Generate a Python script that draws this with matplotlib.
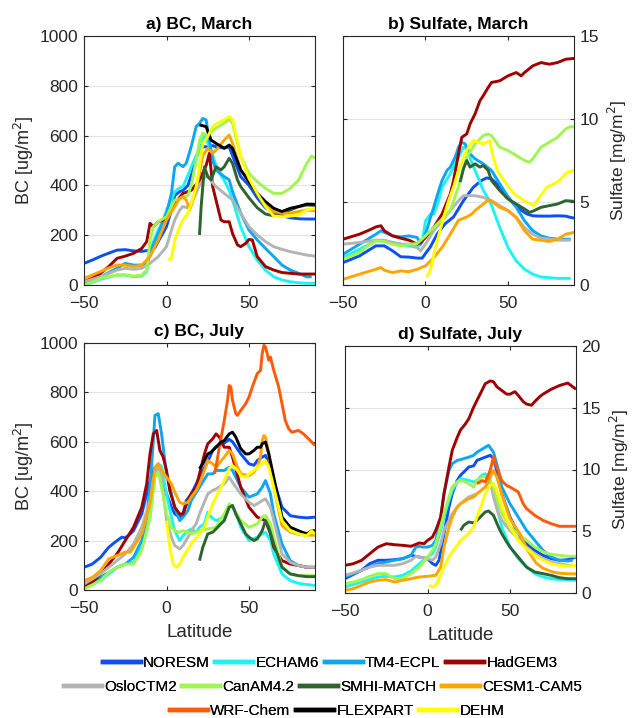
import matplotlib
matplotlib.use("Agg")
import matplotlib.pyplot as plt
from matplotlib.lines import Line2D

plt.rcParams['font.family'] = ['Liberation Sans', 'DejaVu Sans']

models = ["NORESM", "ECHAM6", "TM4-ECPL", "HadGEM3", "OsloCTM2", "CanAM4.2",
          "SMHI-MATCH", "CESM1-CAM5", "WRF-Chem", "FLEXPART", "DEHM"]
colors = ["#0a50f5", "#1ef2f2", "#0ca6f2", "#a00000", "#b4b4b4", "#a0f550",
          "#2e6430", "#ffa500", "#ff5a0a", "#000000", "#ffff00"]

titles = ["a) BC, March", "b) Sulfate, March", "c) BC, July", "d) Sulfate, July"]
xticks = [-50, 0, 50]
bc_yticks = [0, 200, 400, 600, 800, 1000]
su_mar_yticks = [0, 5, 10, 15]
su_jul_yticks = [0, 5, 10, 15, 20]

# ---------------- a) BC, March (lat, value) ----------------
bc_mar_noresm = [(-50, 87), (-45, 100), (-40, 115), (-35, 128), (-30, 140), (-25, 142), (-20, 137), (-15, 135), (-10, 140), (-7, 150), (-5, 175), (-2, 210), (0, 235), (3, 300), (5, 360), (8, 375), (10, 380), (13, 400), (15, 440), (18, 510), (20, 550), (23, 555), (25, 555), (28, 560), (30, 555), (35, 550), (38, 555), (40, 520), (45, 435), (50, 400), (55, 350), (60, 310), (65, 290), (70, 278), (75, 270), (80, 266), (85, 265), (90, 265)]
bc_mar_echam6 = [(-50, 0), (-45, 10), (-40, 23), (-35, 32), (-30, 40), (-25, 40), (-20, 33), (-15, 36), (-12, 54), (-10, 140), (-7, 190), (-5, 221), (-2, 260), (0, 301), (3, 341), (5, 375), (8, 390), (10, 395), (13, 440), (15, 475), (18, 520), (20, 542), (23, 600), (25, 570), (28, 520), (30, 480), (33, 440), (35, 420), (38, 380), (40, 341), (45, 234), (50, 154), (55, 100), (60, 60), (65, 33), (70, 20), (75, 13), (80, 9), (85, 7), (90, 7)]
bc_mar_tm4 = [(-50, 7), (-45, 18), (-40, 33), (-35, 50), (-30, 67), (-25, 87), (-20, 80), (-15, 80), (-12, 87), (-10, 127), (-5, 207), (0, 288), (3, 368), (5, 475), (7, 489), (10, 475), (12, 489), (15, 556), (18, 636), (20, 649), (22, 669), (24, 663), (26, 582), (28, 500), (30, 462), (35, 435), (38, 422), (40, 375), (45, 288), (50, 221), (55, 181), (60, 147), (65, 114), (70, 80), (75, 60), (80, 47), (85, 33), (88, 33)]
bc_mar_hadgem3 = [(-50, 13), (-45, 27), (-40, 47), (-35, 74), (-30, 107), (-25, 116), (-20, 127), (-15, 147), (-12, 174), (-10, 248), (-8, 234), (-5, 254), (-2, 261), (0, 274), (5, 328), (10, 368), (15, 380), (20, 420), (24, 480), (26, 529), (28, 395), (30, 341), (33, 261), (35, 254), (38, 254), (40, 207), (43, 161), (45, 154), (48, 167), (50, 183), (52, 181), (55, 114), (60, 74), (65, 60), (70, 50), (75, 47), (80, 44), (90, 44)]
bc_mar_oslo = [(-50, 13), (-40, 33), (-30, 60), (-25, 67), (-20, 63), (-15, 67), (-10, 87), (-5, 114), (0, 154), (3, 221), (5, 261), (8, 301), (10, 315), (13, 310), (15, 330), (18, 370), (20, 400), (23, 430), (25, 440), (28, 410), (30, 395), (35, 368), (40, 341), (45, 288), (50, 234), (55, 201), (60, 174), (65, 154), (70, 143), (75, 134), (80, 127), (85, 120), (90, 116)]
bc_mar_canam = [(-50, 0), (-45, 12), (-40, 27), (-35, 35), (-30, 40), (-25, 40), (-20, 36), (-15, 40), (-12, 60), (-10, 180), (-8, 234), (-5, 254), (0, 274), (3, 315), (5, 341), (8, 345), (10, 350), (13, 360), (15, 400), (18, 500), (20, 580), (22, 610), (25, 600), (28, 620), (30, 630), (35, 650), (38, 665), (40, 649), (45, 515), (50, 448), (55, 415), (60, 388), (65, 368), (70, 368), (75, 388), (80, 421), (85, 488), (88, 518), (90, 509)]
bc_mar_smhi = [(20, 201), (21, 315), (23, 475), (25, 435), (27, 422), (30, 475), (33, 462), (35, 475), (38, 509), (40, 489), (43, 422), (45, 395), (50, 350), (55, 310), (60, 285), (65, 278), (70, 288), (75, 301), (80, 315), (85, 321), (90, 320)]
bc_mar_cesm = [(-50, 27), (-45, 40), (-40, 54), (-35, 68), (-30, 80), (-25, 80), (-20, 74), (-15, 80), (-10, 114), (-5, 181), (0, 261), (5, 315), (8, 348), (10, 355), (12, 341), (14, 301), (17, 360), (20, 450), (22, 520), (25, 549), (28, 529), (30, 542), (35, 582), (38, 602), (40, 569), (45, 462), (50, 415), (55, 368), (60, 321), (65, 295), (70, 288), (75, 288), (80, 295), (85, 301), (90, 298)]
bc_mar_wrf = []
bc_mar_flexpart = [(20, 643), (24, 636), (27, 582), (30, 569), (35, 549), (38, 562), (40, 549), (45, 462), (50, 415), (55, 368), (60, 335), (65, 308), (70, 295), (75, 308), (80, 315), (85, 325), (90, 324)]
bc_mar_dehm = [(1, 100), (3, 107), (5, 180), (8, 234), (10, 261), (13, 288), (15, 328), (18, 395), (20, 475), (22, 569), (25, 596), (28, 636), (30, 647), (35, 663), (38, 676), (40, 665), (42, 609), (45, 515), (50, 428), (55, 368), (60, 315), (65, 277), (70, 274), (75, 277), (80, 281), (85, 301), (90, 308)]

# ---------------- b) Sulfate, March ----------------
su_mar_noresm = [(-50, 1.35), (-40, 1.75), (-35, 2.06), (-30, 2.36), (-25, 2.36), (-20, 2.06), (-15, 1.7), (-10, 1.68), (-5, 1.62), (-2, 1.62), (0, 1.9), (3, 2.3), (7, 3.06), (12, 3.7), (17, 4.1), (23, 5.08), (29, 5.89), (34, 6.3), (37, 6.45), (40, 6.4), (45.5, 5.89), (50, 5.3), (53.6, 4.88), (58, 4.5), (61.7, 4.27), (65, 4.17), (70, 4.15), (75, 4.15), (80, 4.17), (85, 4.15), (88, 4.07), (90, 4.03)]
su_mar_echam6 = [(-50, 1.65), (-40, 2.16), (-30, 2.66), (-25, 2.66), (-20, 2.56), (-15, 2.46), (-10, 2.36), (-5, 2.26), (-2, 2.56), (0, 3.87), (3, 4.27), (5, 4.27), (8, 5.08), (10, 5.89), (15, 6.7), (20, 7.7), (23, 8.3), (25, 8.2), (28, 7.4), (30, 6.9), (33, 6.2), (35, 5.7), (38, 5.2), (40, 4.8), (43, 4.0), (45, 3.47), (50, 2.26), (55, 1.45), (60, 0.95), (65, 0.65), (70, 0.48), (75, 0.44), (80, 0.4), (88, 0.4)]
su_mar_tm4 = [(-50, 1.85), (-40, 2.46), (-30, 3.06), (-27, 3.27), (-25, 3.17), (-20, 2.96), (-15, 2.9), (-10, 2.96), (-5, 2.86), (-3, 2.46), (0, 3.06), (3, 4.07), (5, 4.68), (8, 5.69), (10, 6.29), (13, 6.9), (15, 7.1), (18, 7.7), (20, 8.3), (22, 8.6), (24, 8.5), (27, 7.9), (30, 7.6), (35, 7.3), (40, 6.9), (45, 6.1), (50, 5.3), (55, 4.68), (60, 3.87), (65, 3.27), (70, 2.96), (75, 2.82), (80, 2.76), (88, 2.76)]
su_mar_hadgem3 = [(-50, 2.76), (-40, 3.06), (-35, 3.27), (-30, 3.5), (-27, 3.57), (-25, 3.27), (-20, 2.96), (-15, 2.82), (-10, 2.7), (-5, 2.46), (-3, 2.56), (0, 2.86), (5, 3.47), (10, 4.27), (15, 5.48), (17, 6.29), (20, 7.9), (22, 8.9), (25, 9.1), (27, 9.7), (30, 10.3), (33, 11.1), (35, 11.4), (38, 11.9), (40, 12.2), (45, 12.3), (50, 12.6), (55, 12.8), (58, 12.6), (60, 12.8), (65, 13.2), (70, 13.4), (75, 13.3), (80, 13.4), (85, 13.6), (90, 13.65)]
su_mar_oslo = [(-50, 2.46), (-40, 2.56), (-30, 2.7), (-25, 2.7), (-20, 2.56), (-15, 2.46), (-10, 2.46), (-5, 2.26), (-3, 2.06), (0, 2.46), (5, 3.27), (10, 3.87), (15, 4.48), (20, 5.08), (23, 5.38), (25, 5.38), (30, 5.38), (35, 5.28), (40, 5.08), (45, 4.78), (50, 4.48), (55, 4.07), (60, 3.47), (65, 3.06), (70, 2.82), (75, 2.76), (80, 2.7), (88, 2.7)]
su_mar_canam = [(-50, 1.55), (-40, 1.96), (-35, 2.36), (-30, 2.66), (-25, 2.62), (-20, 2.46), (-15, 2.36), (-10, 2.46), (-5, 2.5), (0, 2.96), (5, 3.47), (10, 3.97), (15, 4.48), (20, 5.89), (22, 6.7), (25, 7.7), (30, 8.5), (35, 9.0), (38, 9.1), (40, 9.0), (45, 8.3), (50, 8.1), (55, 7.8), (60, 7.5), (63, 7.4), (65, 7.6), (70, 8.3), (75, 8.6), (80, 8.9), (85, 9.4), (88, 9.55), (90, 9.5)]
su_mar_smhi = [(21, 6.2), (23, 7.0), (25, 7.5), (27, 7.1), (30, 7.3), (33, 7.1), (35, 7.2), (38, 6.9), (40, 6.29), (45, 5.69), (50, 5.18), (55, 4.88), (60, 4.58), (63, 4.38), (65, 4.44), (70, 4.68), (75, 4.78), (80, 4.88), (85, 5.08), (90, 5.04)]
su_mar_cesm = [(-50, 0.34), (-40, 0.65), (-30, 0.95), (-27, 1.05), (-25, 0.89), (-20, 0.75), (-15, 0.85), (-10, 0.8), (-5, 0.95), (0, 1.15), (5, 1.65), (10, 2.26), (15, 3.06), (20, 3.9), (25, 4.1), (28, 4.27), (30, 4.48), (35, 4.88), (38, 5.12), (40, 5.05), (45, 4.68), (50, 4.48), (55, 4.07), (60, 3.27), (65, 2.76), (70, 2.7), (75, 2.62), (80, 2.76), (85, 3.06), (90, 3.17)]
su_mar_wrf = []
su_mar_flexpart = []
su_mar_dehm = [(0.6, 0.48), (3, 0.9), (6, 2.26), (11, 4.07), (14, 5.08), (17, 5.9), (20, 6.9), (23, 7.7), (26, 8.3), (29, 8.7), (32, 8.6), (35, 8.5), (39, 8.7), (41, 7.7), (44, 6.8), (47.5, 6.3), (53.6, 5.5), (59.7, 5.08), (65.7, 4.78), (67.7, 5.1), (73.8, 5.9), (80, 6.2), (86, 6.8), (90, 6.9)]

# ---------------- c) BC, July ----------------
bc_jul_noresm = [(-50, 92), (-45, 105), (-40, 132), (-35, 173), (-30, 200), (-27, 214), (-25, 211), (-22, 227), (-20, 240), (-15, 308), (-10, 443), (-7, 497), (-5, 490), (0, 389), (3, 335), (5, 308), (8, 295), (10, 308), (12, 362), (15, 389), (20, 457), (25, 520), (28, 565), (30, 580), (33, 590), (35, 595), (38, 610), (40, 600), (45, 551), (50, 511), (53, 505), (55, 524), (58, 538), (60, 545), (63, 497), (65, 443), (70, 335), (75, 301), (80, 295), (85, 292), (90, 295)]
bc_jul_echam6 = [(-50, 11), (-40, 38), (-35, 65), (-30, 92), (-25, 105), (-20, 112), (-15, 173), (-10, 295), (-7, 470), (-5, 511), (-3, 500), (0, 389), (3, 295), (5, 240), (8, 200), (10, 220), (13, 240), (15, 247), (18, 234), (20, 254), (23, 268), (25, 315), (27, 295), (30, 281), (35, 295), (38, 335), (40, 342), (43, 295), (45, 254), (50, 200), (55, 214), (58, 227), (60, 234), (63, 200), (65, 146), (70, 65), (75, 38), (80, 27), (85, 22), (90, 18)]
bc_jul_tm4 = [(-50, 18), (-40, 51), (-30, 92), (-25, 105), (-20, 132), (-15, 200), (-12, 295), (-10, 416), (-8, 605), (-7, 707), (-5, 714), (-3, 632), (0, 470), (3, 389), (5, 335), (8, 281), (10, 295), (13, 322), (15, 362), (20, 416), (25, 470), (28, 470), (30, 484), (35, 484), (38, 497), (40, 484), (45, 416), (50, 376), (55, 389), (58, 416), (60, 443), (63, 389), (65, 308), (70, 186), (75, 119), (80, 99), (85, 92), (90, 92)]
bc_jul_hadgem3 = [(-50, 18), (-45, 31), (-40, 65), (-35, 105), (-30, 146), (-25, 200), (-20, 254), (-15, 335), (-12, 430), (-10, 551), (-8, 632), (-6, 646), (-4, 565), (-2, 538), (0, 484), (2, 403), (5, 335), (8, 308), (10, 308), (13, 362), (15, 389), (18, 416), (20, 470), (23, 551), (25, 592), (28, 612), (30, 632), (32, 619), (35, 578), (38, 578), (40, 538), (45, 416), (50, 335), (55, 295), (60, 281), (63, 227), (65, 173), (70, 119), (75, 105), (80, 99), (85, 92), (90, 92)]
bc_jul_oslo = [(-50, 24), (-40, 65), (-30, 119), (-25, 146), (-20, 186), (-15, 254), (-10, 362), (-7, 470), (-5, 497), (-3, 457), (0, 281), (3, 214), (5, 180), (8, 166), (10, 180), (13, 214), (15, 240), (18, 268), (20, 308), (25, 389), (28, 403), (30, 409), (35, 430), (38, 457), (40, 436), (45, 389), (50, 355), (53, 342), (55, 349), (58, 362), (60, 369), (63, 335), (65, 281), (70, 146), (75, 112), (80, 99), (85, 92), (90, 92)]
bc_jul_canam = [(-50, 4), (-40, 38), (-35, 72), (-30, 92), (-25, 105), (-20, 105), (-15, 159), (-10, 295), (-7, 457), (-5, 477), (-3, 416), (0, 308), (3, 254), (5, 240), (8, 234), (10, 240), (13, 234), (15, 227), (20, 240), (25, 247), (30, 254), (35, 308), (38, 349), (40, 335), (45, 281), (50, 254), (55, 268), (58, 295), (60, 301), (63, 268), (65, 214), (70, 92), (75, 65), (80, 58), (85, 58), (90, 58)]
bc_jul_smhi = [(20, 119), (22, 173), (25, 227), (28, 234), (30, 247), (33, 268), (35, 281), (38, 335), (40, 342), (42, 308), (45, 268), (48, 227), (50, 214), (53, 200), (55, 207), (58, 240), (60, 281), (62, 254), (65, 186), (70, 92), (75, 65), (80, 58), (85, 54), (90, 54)]
bc_jul_cesm = [(-50, 38), (-45, 51), (-40, 78), (-35, 126), (-30, 139), (-25, 153), (-22, 153), (-20, 173), (-15, 227), (-10, 349), (-7, 497), (-5, 511), (-3, 484), (0, 457), (3, 430), (5, 396), (8, 355), (10, 349), (13, 355), (15, 376), (18, 403), (20, 430), (23, 484), (25, 524), (28, 511), (30, 497), (35, 538), (38, 565), (40, 551), (43, 497), (45, 470), (50, 463), (53, 477), (55, 497), (57, 538), (58, 605), (59, 625), (60, 619), (62, 551), (65, 416), (70, 260), (75, 235), (80, 225), (85, 222), (90, 222)]
bc_jul_wrf = [(29, 470), (30, 497), (32, 578), (35, 686), (37, 768), (38, 828), (39, 822), (40, 768), (42, 714), (43, 707), (45, 727), (48, 754), (50, 781), (52, 822), (55, 876), (57, 889), (58, 957), (59, 991), (60, 984), (62, 930), (63, 943), (65, 889), (68, 822), (70, 754), (72, 686), (74, 653), (76, 639), (80, 646), (83, 632), (85, 619), (88, 599), (90, 585)]
bc_jul_flexpart = [(20, 491), (22, 511), (25, 551), (27, 558), (30, 578), (33, 599), (35, 605), (38, 632), (40, 639), (42, 619), (45, 572), (48, 551), (50, 551), (53, 565), (55, 578), (57, 578), (58, 592), (60, 599), (62, 551), (65, 457), (68, 362), (70, 295), (75, 254), (80, 240), (85, 227), (88, 240), (90, 240)]
bc_jul_dehm = [(0, 281), (2, 173), (4, 105), (6, 92), (8, 105), (10, 132), (15, 186), (20, 227), (23, 254), (25, 295), (28, 349), (30, 376), (33, 416), (35, 443), (38, 491), (40, 504), (43, 484), (45, 463), (48, 457), (50, 470), (53, 484), (55, 497), (58, 511), (60, 524), (62, 497), (65, 416), (68, 335), (70, 281), (75, 240), (80, 227), (85, 220), (88, 240), (90, 227)]

# ---------------- d) Sulfate, July ----------------
su_jul_noresm = [(-50, 1.16), (-40, 1.84), (-35, 2.38), (-30, 2.65), (-25, 2.65), (-20, 2.7), (-15, 2.78), (-10, 3.05), (-5, 2.91), (0, 2.78), (3, 2.38), (5, 2.24), (7, 2.65), (10, 4.8), (13, 6.96), (15, 8.04), (18, 9.12), (20, 9.53), (23, 9.93), (25, 10.2), (28, 10.3), (30, 10.74), (35, 11.0), (38, 11.15), (40, 10.9), (43, 9.39), (45, 8.04), (50, 6.15), (55, 4.8), (60, 3.99), (65, 3.45), (70, 3.05), (75, 2.78), (80, 2.65), (85, 2.7), (90, 2.91)]
su_jul_echam6 = [(-50, 0.49), (-40, 0.89), (-30, 1.3), (-25, 1.35), (-20, 1.3), (-15, 1.43), (-10, 1.78), (-5, 2.37), (0, 2.91), (3, 3.18), (5, 3.72), (8, 5.07), (10, 6.15), (13, 7.5), (15, 8.31), (18, 8.99), (20, 9.26), (25, 9.12), (28, 8.99), (30, 9.12), (33, 9.53), (35, 9.66), (38, 8.99), (40, 8.04), (43, 6.42), (45, 5.34), (50, 3.72), (55, 2.78), (60, 2.1), (65, 1.57), (70, 1.3), (75, 1.16), (80, 1.08), (90, 1.03)]
su_jul_tm4 = [(-50, 1.3), (-40, 1.84), (-30, 2.38), (-25, 2.51), (-20, 2.65), (-15, 2.78), (-10, 3.05), (-7, 3.72), (-5, 3.78), (-3, 3.72), (0, 3.72), (3, 3.86), (5, 4.26), (8, 6.15), (10, 8.04), (13, 9.93), (15, 10.47), (18, 10.74), (20, 10.8), (25, 11.0), (28, 11.15), (30, 11.4), (35, 11.8), (37, 11.96), (40, 11.4), (43, 9.93), (45, 8.58), (50, 7.23), (55, 6.15), (60, 5.07), (65, 4.26), (70, 3.45), (75, 2.91), (80, 2.65), (85, 2.59), (88, 2.65)]
su_jul_hadgem3 = [(-50, 2.24), (-45, 2.37), (-40, 2.64), (-35, 3.18), (-30, 3.72), (-25, 3.99), (-20, 3.91), (-15, 3.86), (-10, 3.78), (-5, 4.05), (-2, 4.0), (0, 4.26), (3, 4.53), (5, 5.07), (8, 6.15), (10, 8.04), (13, 10.2), (15, 11.55), (18, 12.6), (20, 13.2), (23, 13.7), (25, 14.1), (28, 15.06), (30, 15.6), (33, 16.4), (35, 16.95), (38, 17.17), (40, 17.1), (42, 16.7), (45, 16.4), (48, 16.1), (50, 16.1), (53, 16.3), (55, 16.0), (58, 15.5), (60, 15.3), (63, 15.2), (65, 15.5), (68, 15.9), (70, 16.1), (75, 16.5), (80, 16.8), (85, 17.0), (88, 16.7), (90, 16.5)]
su_jul_oslo = [(-50, 1.43), (-40, 1.84), (-35, 2.1), (-30, 2.24), (-25, 2.24), (-20, 2.24), (-15, 2.37), (-10, 2.65), (-7, 2.97), (-5, 2.91), (0, 2.78), (3, 2.65), (5, 2.91), (8, 3.99), (10, 5.07), (13, 5.88), (15, 6.42), (18, 6.96), (20, 7.23), (25, 7.77), (30, 8.04), (35, 8.58), (38, 9.12), (40, 7.77), (43, 6.42), (45, 5.88), (50, 5.07), (55, 4.4), (60, 3.72), (65, 3.18), (70, 2.78), (75, 2.51), (80, 2.37), (85, 2.24), (88, 2.24)]
su_jul_canam = [(-50, 0.76), (-45, 0.89), (-40, 1.08), (-35, 1.35), (-30, 1.57), (-25, 1.57), (-22, 1.3), (-20, 1.16), (-15, 1.16), (-10, 1.57), (-5, 2.1), (0, 2.91), (3, 3.45), (5, 3.99), (8, 5.34), (10, 6.42), (13, 7.77), (15, 8.58), (18, 8.99), (20, 9.12), (23, 8.99), (25, 8.85), (28, 8.58), (30, 9.12), (33, 9.39), (35, 9.45), (38, 9.12), (40, 8.58), (43, 7.23), (45, 6.42), (50, 5.34), (55, 4.8), (60, 4.26), (65, 3.72), (70, 3.32), (75, 3.13), (80, 3.05), (85, 2.97), (90, 2.97)]
su_jul_smhi = [(20, 5.07), (22, 5.48), (25, 5.75), (28, 5.67), (30, 5.88), (33, 6.29), (35, 6.56), (37, 6.64), (40, 6.29), (43, 5.34), (45, 4.8), (48, 4.13), (50, 3.72), (55, 2.91), (60, 2.1), (65, 1.7), (70, 1.57), (75, 1.43), (80, 1.24), (85, 1.16), (90, 1.16)]
su_jul_cesm = [(-50, 0.22), (-45, 0.35), (-40, 0.62), (-35, 0.89), (-30, 1.03), (-25, 1.08), (-20, 0.89), (-15, 1.03), (-10, 1.16), (-5, 1.3), (0, 1.35), (5, 1.43), (8, 2.1), (10, 3.72), (13, 5.34), (15, 6.15), (18, 6.96), (20, 7.23), (25, 7.64), (28, 7.77), (30, 8.04), (35, 8.58), (38, 9.39), (40, 9.93), (42, 9.39), (45, 8.0), (50, 6.0), (56, 4.8), (60, 3.6), (66, 2.4), (70, 2.0), (76, 1.7), (80, 1.6), (85, 1.56), (90, 1.55)]
su_jul_wrf = [(30, 8.85), (33, 9.1), (35, 9.0), (38, 9.93), (40, 11.0), (42, 10.2), (45, 9.1), (48, 8.7), (50, 8.58), (55, 8.18), (58, 7.23), (60, 6.83), (65, 6.29), (70, 5.88), (75, 5.61), (80, 5.4), (85, 5.4), (90, 5.4)]
su_jul_flexpart = []
su_jul_dehm = [(1, 0.62), (3, 0.49), (5, 0.62), (7, 1.16), (10, 2.1), (13, 2.91), (15, 3.32), (18, 3.86), (20, 4.26), (25, 4.8), (28, 5.34), (30, 6.15), (33, 7.23), (35, 8.04), (38, 8.72), (40, 8.85), (42, 8.31), (45, 6.96), (50, 5.34), (55, 4.26), (60, 3.59), (65, 3.05), (70, 2.65), (75, 2.37), (80, 2.24), (85, 2.16), (90, 2.24)]

panel_a = [bc_mar_noresm, bc_mar_echam6, bc_mar_tm4, bc_mar_hadgem3, bc_mar_oslo, bc_mar_canam, bc_mar_smhi, bc_mar_cesm, bc_mar_wrf, bc_mar_flexpart, bc_mar_dehm]
panel_b = [su_mar_noresm, su_mar_echam6, su_mar_tm4, su_mar_hadgem3, su_mar_oslo, su_mar_canam, su_mar_smhi, su_mar_cesm, su_mar_wrf, su_mar_flexpart, su_mar_dehm]
panel_c = [bc_jul_noresm, bc_jul_echam6, bc_jul_tm4, bc_jul_hadgem3, bc_jul_oslo, bc_jul_canam, bc_jul_smhi, bc_jul_cesm, bc_jul_wrf, bc_jul_flexpart, bc_jul_dehm]
panel_d = [su_jul_noresm, su_jul_echam6, su_jul_tm4, su_jul_hadgem3, su_jul_oslo, su_jul_canam, su_jul_smhi, su_jul_cesm, su_jul_wrf, su_jul_flexpart, su_jul_dehm]

W, H = 635, 718
fig = plt.figure(figsize=(W / 100, H / 100), dpi=100)

def px_axes(l, t, r, b):
    return fig.add_axes([l / W, 1 - b / H, (r - l) / W, (b - t) / H])

ax_a = px_axes(84, 36, 315, 285)
ax_b = px_axes(343, 36, 574, 285)
ax_c = px_axes(84, 343, 315, 590)
ax_d = px_axes(345, 346, 576, 593)

ink = "#262626"
LW = 2.1

def style(ax, data, title, yticks, ylim, ylabel, right=False, xlabel=None):
    for series, c in zip(data, colors):
        if not series:
            continue
        xs = [p[0] for p in series]
        ys = [p[1] for p in series]
        ax.plot(xs, ys, color=c, lw=LW, solid_joinstyle='round', solid_capstyle='butt')
    ax.set_xlim(-50, 90)
    ax.set_ylim(*ylim)
    ax.set_xticks(xticks)
    ax.set_yticks(yticks)
    ax.grid(axis='y', color='#e3e3e3', lw=0.8)
    ax.set_axisbelow(True)
    for s in ax.spines.values():
        s.set_color(ink)
        s.set_linewidth(0.8)
    ax.tick_params(direction='in', length=3, width=0.8, colors=ink, labelsize=12.5,
                   top=True, bottom=True, left=True, right=True)
    ax.tick_params(axis='x', pad=8)
    ax.tick_params(axis='y', pad=4)
    if right:
        ax.yaxis.tick_right()
        ax.tick_params(axis='y', left=True, right=True, direction='in')
        ax.yaxis.set_label_position('right')
        ax.set_ylabel(ylabel, fontsize=12.5, color=ink, labelpad=5, rotation=90)
    else:
        ax.set_ylabel(ylabel, fontsize=13, color=ink, labelpad=3)
    ax.set_title(title, fontsize=12.5, fontweight='bold', color='black', pad=5)
    if xlabel:
        ax.set_xlabel(xlabel, fontsize=13.5, color=ink, labelpad=6)

style(ax_a, panel_a, titles[0], bc_yticks, (0, 1000), 'BC [ug/m$^2$]')
style(ax_b, panel_b, titles[1], su_mar_yticks, (0, 15), 'Sulfate [mg/m$^2$]', right=True)
style(ax_c, panel_c, titles[2], bc_yticks, (0, 1000), 'BC [ug/m$^2$]', xlabel='Latitude')
style(ax_d, panel_d, titles[3], su_jul_yticks, (0, 20), 'Sulfate [mg/m$^2$]', right=True, xlabel='Latitude')

handles = [Line2D([0], [0], color=c, lw=3.2) for c in colors]
rows = [(0, 4, 330, 663), (4, 8, 323, 687), (8, 11, 337, 711)]
for i0, i1, cx, cy in rows:
    leg = fig.legend(handles[i0:i1], models[i0:i1], loc='center',
                     bbox_to_anchor=(cx / W, 1 - cy / H), ncol=i1 - i0,
                     frameon=False, fontsize=11, handlelength=2.5,
                     handletextpad=0.15, columnspacing=0.35, borderpad=0,
                     borderaxespad=0)
    fig.add_artist(leg)

fig.savefig('out.png', dpi=100)
